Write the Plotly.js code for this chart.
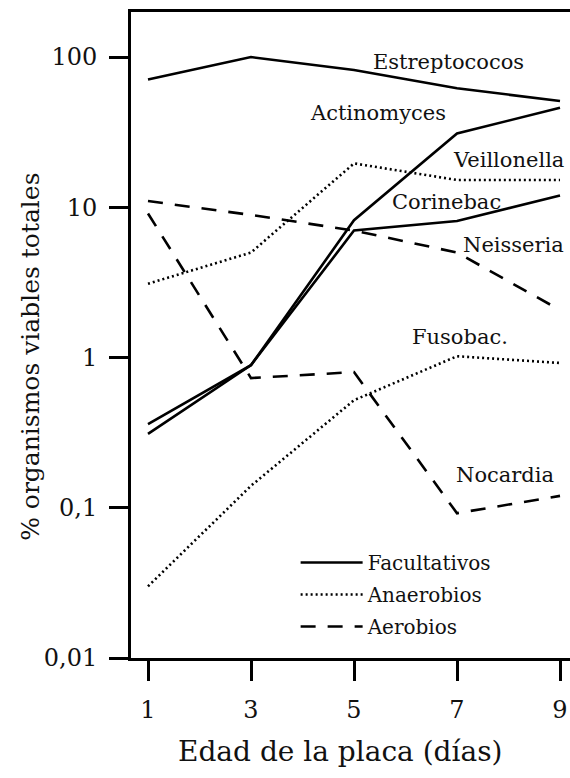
<!DOCTYPE html>
<html>
<head>
<meta charset="utf-8">
<script src="https://cdn.plot.ly/plotly-3.0.1.min.js"></script>
<style>
  html, body { margin: 0; padding: 0; background: #fff; }
  #chart { width: 570px; height: 778px; }
</style>
</head>
<body>
<div id="chart"></div>
<script>
// ---- data ----
const dias = [1, 3, 5, 7, 9];

// Facultativos
const estreptococos = [71, 100, 82, 62, 51];
const actinomyces   = [0.36, 0.89, 8.2, 31, 46];
const corinebac     = [0.31, 0.89, 7.0, 8.1, 12];

// Anaerobios
const veillonella   = [3.1, 5.0, 19.6, 15.2, 15.2];
const fusobac       = [0.030, 0.14, 0.52, 1.02, 0.92];

// Aerobios
const neisseria     = [11, 8.9, 7.0, 5.0, 2.07];
const nocardia      = [9.1, 0.73, 0.80, 0.092, 0.12];

const tickVals  = [0.01, 0.1, 1, 10, 100];
const tickText  = ['0,01', '0,1', '1', '10', '100'];
const xTickVals = [1, 3, 5, 7, 9];

const xTitle = 'Edad de la placa (días)';
const yTitle = '% organismos viables totales';

// ---- styles ----
const FONT = '"DejaVu Serif", "Liberation Serif", serif';
const INK = '#111111';
const styles = {
  Facultativos: { color: '#000', width: 2.6, dash: 'solid' },
  Anaerobios:   { color: '#000', width: 2.6, dash: '2px,3px' },
  Aerobios:     { color: '#000', width: 2.6, dash: '15px,12px' }
};

const series = [
  { name: 'Estreptococos', y: estreptococos, group: 'Facultativos', legend: true },
  { name: 'Actinomyces',   y: actinomyces,   group: 'Facultativos' },
  { name: 'Corinebac',     y: corinebac,     group: 'Facultativos' },
  { name: 'Veillonella',   y: veillonella,   group: 'Anaerobios', legend: true },
  { name: 'Fusobac.',      y: fusobac,       group: 'Anaerobios' },
  { name: 'Neisseria',     y: neisseria,     group: 'Aerobios', legend: true },
  { name: 'Nocardia',      y: nocardia,      group: 'Aerobios' }
];

const traces = series.map(s => ({
  type: 'scatter',
  mode: 'lines',
  x: dias,
  y: s.y,
  name: s.legend ? s.group : s.name,
  legendgroup: s.group,
  showlegend: !!s.legend,
  line: styles[s.group],
  hoverinfo: 'x+y+text',
  text: s.name
}));

// label positions (x in days, y in log10 units)
const labels = [
  { text: 'Estreptococos', x: 6.84, y: 1.968 },
  { text: 'Actinomyces',   x: 5.47, y: 1.628 },
  { text: 'Veillonella',   x: 8.00, y: 1.316 },
  { text: 'Corinebac',     x: 6.80, y: 1.036 },
  { text: 'Neisseria',     x: 8.10, y: 0.750 },
  { text: 'Fusobac.',      x: 7.06, y: 0.137 },
  { text: 'Nocardia',      x: 7.93, y: -0.782 }
];

const annotations = labels.map(l => ({
  text: l.text, x: l.x, y: l.y, xref: 'x', yref: 'y',
  showarrow: false, xanchor: 'center', yanchor: 'middle',
  font: { family: FONT, size: 21, color: INK }
}));

// axis titles as paper annotations (placed like the reference)
annotations.push({
  text: xTitle, xref: 'paper', yref: 'paper', x: 0.476, y: -0.1455,
  xanchor: 'center', yanchor: 'middle', showarrow: false,
  font: { family: FONT, size: 28, color: INK }
});
annotations.push({
  text: yTitle, xref: 'paper', yref: 'paper', x: -0.228, y: 0.466,
  xanchor: 'center', yanchor: 'middle', showarrow: false, textangle: -90,
  font: { family: FONT, size: 25, color: INK }
});

const layout = {
  width: 570,
  height: 778,
  margin: { l: 131, r: 0, t: 12, b: 120, pad: 0 },
  paper_bgcolor: '#fff',
  plot_bgcolor: '#fff',
  showlegend: true,
  legend: {
    x: 0.375, y: 0.178, xanchor: 'left', yanchor: 'top',
    bgcolor: 'rgba(0,0,0,0)', borderwidth: 0,
    font: { family: FONT, size: 20, color: INK },
    itemwidth: 62,
    traceorder: 'grouped',
    tracegroupgap: 3
  },
  xaxis: {
    range: [0.67, 9.194],
    tickvals: xTickVals,
    ticktext: xTickVals.map(String),
    ticks: 'outside', ticklen: 20, tickwidth: 3, tickcolor: '#000',
    ticklabelstandoff: 8,
    showline: true, linewidth: 3, linecolor: '#000', mirror: true,
    showgrid: false, zeroline: false,
    tickfont: { family: FONT, size: 24, color: INK }
  },
  yaxis: {
    type: 'log',
    range: [-2, 2.3],
    tickvals: tickVals,
    ticktext: tickText,
    ticks: 'outside', ticklen: 19, tickwidth: 3, tickcolor: '#000',
    ticklabelstandoff: 7,
    showline: true, linewidth: 3, linecolor: '#000',
    showgrid: false, zeroline: false,
    tickfont: { family: FONT, size: 24, color: INK }
  },
  annotations: annotations
};

Plotly.newPlot('chart', traces, layout, { displayModeBar: false, staticPlot: true });
</script>
</body>
</html>
